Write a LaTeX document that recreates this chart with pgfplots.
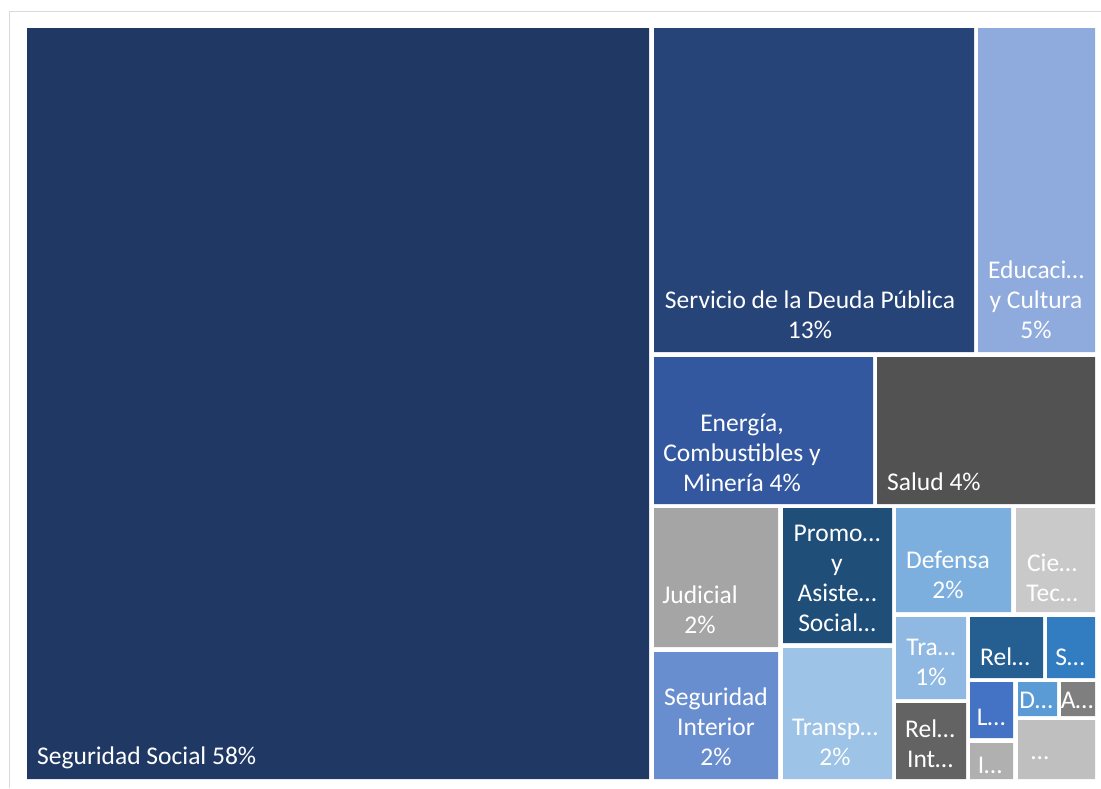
\documentclass[border=0pt]{standalone}
\usepackage{pgfplots}
\pgfplotsset{compat=1.18}
\usepackage{fontspec}
\setmainfont{Carlito}
\definecolor{cSS}{HTML}{203864}
\definecolor{cSD}{HTML}{264478}
\definecolor{cED}{HTML}{8FAADC}
\definecolor{cEN}{HTML}{3358A0}
\definecolor{cSA}{HTML}{525252}
\definecolor{cJU}{HTML}{A5A5A5}
\definecolor{cSI}{HTML}{698ED0}
\definecolor{cPR}{HTML}{1F4E79}
\definecolor{cTR}{HTML}{9DC3E6}
\definecolor{cDE}{HTML}{7CAFDD}
\definecolor{cCI}{HTML}{C9C9C9}
\definecolor{cTB}{HTML}{8FB9E3}
\definecolor{cRI}{HTML}{636363}
\definecolor{cRE}{HTML}{255E91}
\definecolor{cSE}{HTML}{327DC2}
\definecolor{cLE}{HTML}{4472C4}
\definecolor{cIN}{HTML}{B0B0B0}
\definecolor{cDI}{HTML}{5B9BD5}
\definecolor{cAG}{HTML}{7F7F7F}
\definecolor{cOT}{HTML}{BFBFBF}
\definecolor{cFR}{HTML}{D9D9D9}
\newcommand{\rect}[5]{\addplot[fill=#1,draw=none] coordinates {(#2,#3) (#4,#3) (#4,#5) (#2,#5) (#2,#3)};}
\tikzset{lab/.style={text=white, font=\fontsize{25.5}{30}\selectfont, align=center, inner sep=0pt}}
\begin{document}
\begin{tikzpicture}
\begin{axis}[
  scale only axis, width=1101pt, height=788pt,
  xmin=0, xmax=1101, ymin=0, ymax=788, y dir=reverse,
  axis line style={draw=none}, ticks=none,
  clip=true,
]
\addplot[draw=cFR, line width=1pt] coordinates {(9,788) (9,11) (1101,11)};
\rect{cSS}{27}{28}{649}{779}
\rect{cSD}{654}{28}{974}{352}
\rect{cED}{978}{28}{1095}{352}
\rect{cEN}{654}{357}{873}{504}
\rect{cSA}{877}{357}{1095}{504}
\rect{cJU}{654}{508}{778}{647}
\rect{cSI}{654}{652}{778}{779}
\rect{cPR}{783}{508}{892}{643}
\rect{cTR}{783}{648}{892}{779}
\rect{cDE}{896}{508}{1011}{612}
\rect{cCI}{1016}{508}{1095}{612}
\rect{cTB}{896}{617}{966}{699}
\rect{cRI}{896}{703}{966}{779}
\rect{cRE}{970}{617}{1043}{678}
\rect{cSE}{1047}{617}{1095}{678}
\rect{cLE}{970}{682}{1013}{738}
\rect{cIN}{970}{743}{1013}{779}
\rect{cDI}{1018}{682}{1057}{716}
\rect{cAG}{1061}{682}{1095}{716}
\rect{cOT}{1018}{720}{1095}{779}
\node[lab,anchor=west] at (axis cs:37,758) {Seguridad Social 58\%};
\node[lab] at (axis cs:810,315) {Servicio de la Deuda Pública\\13\%};
\node[lab] at (axis cs:1036,300) {Educaci…\\y Cultura\\5\%};
\node[lab] at (axis cs:742,453) {Energía,\\Combustibles y\\Minería 4\%};
\node[lab,anchor=west] at (axis cs:887,482) {Salud 4\%};
\node[lab] at (axis cs:700,610) {Judicial\\2\%};
\node[lab] at (axis cs:837,578) {Promo…\\y\\Asiste…\\Social…};
\node[lab] at (axis cs:948,575) {Defensa\\2\%};
\node[lab] at (axis cs:1052,578) {Cie…\\Tec…};
\node[lab] at (axis cs:931,662) {Tra…\\1\%};
\node[lab] at (axis cs:1005,657) {Rel…};
\node[lab] at (axis cs:1070,657) {S…};
\node[lab] at (axis cs:716,727) {Seguridad\\Interior\\2\%};
\node[lab] at (axis cs:835,742) {Transp…\\2\%};
\node[lab] at (axis cs:930,744) {Rel…\\Int…};
\node[lab] at (axis cs:991,717) {L…};
\node[lab] at (axis cs:990,765) {I…};
\node[lab] at (axis cs:1036,700) {D…};
\node[lab] at (axis cs:1077,700) {A…};
\node[lab] at (axis cs:1040,758) {…};
\end{axis}
\end{tikzpicture}
\end{document}
